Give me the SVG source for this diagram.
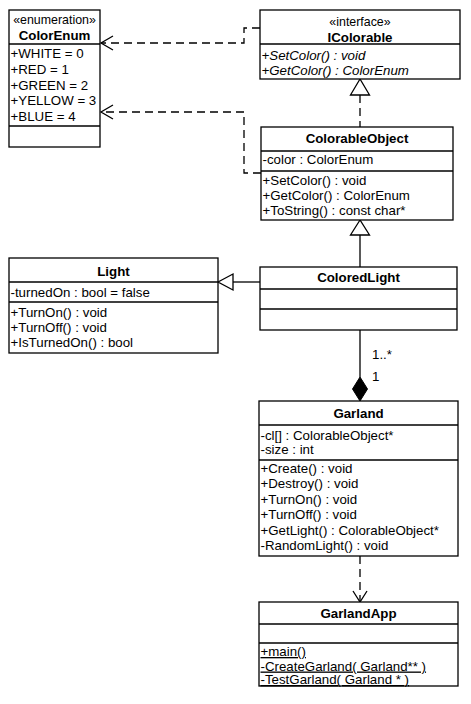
<svg xmlns="http://www.w3.org/2000/svg" width="471" height="704" viewBox="0 0 471 704">
<style>
.box{fill:#fff;stroke:#000;stroke-width:1.3}
.sep{stroke:#000;stroke-width:1.3}
text{font-family:"Liberation Sans",Arial,sans-serif;font-size:13.3px;fill:#000}
.t{font-weight:bold;text-anchor:middle}
.st{text-anchor:middle;font-size:12.4px}
.it{font-style:italic}
.u{text-decoration:underline}
.ln{fill:none;stroke:#000;stroke-width:1.3}
.dash{fill:none;stroke:#000;stroke-width:1.3;stroke-dasharray:8,5}
.open{fill:none;stroke:#000;stroke-width:1.3}
.tri{fill:#fff;stroke:#000;stroke-width:1.3}
</style>
<g id="connectors">
  <path class="dash" d="M360,95 L360,127"/>
  <polygon class="tri" points="360,79 350.5,95 369.5,95"/>
  <path class="dash" d="M260,28 L244,28 L244,43 L101,43"/>
  <path class="open" d="M113,36 L101,43 L113,50"/>
  <path class="dash" d="M261,173 L244,173 L244,112 L101,112"/>
  <path class="open" d="M113,105 L101,112 L113,119"/>
  <path class="ln" d="M360,235 L360,267"/>
  <polygon class="tri" points="360,220 350.5,235 369.5,235"/>
  <path class="ln" d="M233,282 L260,282"/>
  <polygon class="tri" points="218,282 233,274 233,290"/>
  <path class="ln" d="M360,330 L360,377"/>
  <polygon points="360,377 367.5,389 360,401 352.5,389" fill="#000" stroke="#000" stroke-width="1"/>
  <text x="372" y="359">1..*</text>
  <text x="372" y="381">1</text>
  <path class="dash" d="M360,556 L360,601"/>
  <path class="open" d="M353,591 L360,602 L367,591"/>
</g>
<g id="ColorEnum">
  <rect class="box" x="9" y="10" width="91" height="137"/>
  <line class="sep" x1="9" y1="44" x2="100" y2="44"/>
  <line class="sep" x1="9" y1="126" x2="100" y2="126"/>
  <text class="st" x="54.5" y="24">«enumeration»</text>
  <text class="t" x="54.5" y="39.5">ColorEnum</text>
  <text x="10.5" y="58">+WHITE = 0</text>
  <text x="10.5" y="74">+RED = 1</text>
  <text x="10.5" y="89.5">+GREEN = 2</text>
  <text x="10.5" y="105">+YELLOW = 3</text>
  <text x="10.5" y="121">+BLUE = 4</text>
</g>
<g id="IColorable">
  <rect class="box" x="260" y="10" width="200" height="69"/>
  <line class="sep" x1="260" y1="44" x2="460" y2="44"/>
  <text class="st" x="360" y="26">«interface»</text>
  <text class="t" x="360" y="41.5">IColorable</text>
  <text class="it" x="261.5" y="59.5">+SetColor() : void</text>
  <text class="it" x="261.5" y="74.5">+GetColor() : ColorEnum</text>
</g>
<g id="ColorableObject">
  <rect class="box" x="261" y="127" width="192" height="93"/>
  <line class="sep" x1="261" y1="151" x2="453" y2="151"/>
  <line class="sep" x1="261" y1="171" x2="453" y2="171"/>
  <text class="t" x="357" y="142.5">ColorableObject</text>
  <text x="262.5" y="164">-color : ColorEnum</text>
  <text x="262.5" y="184.5">+SetColor() : void</text>
  <text x="262.5" y="199.5">+GetColor() : ColorEnum</text>
  <text x="262.5" y="214.5">+ToString() : const char*</text>
</g>
<g id="Light">
  <rect class="box" x="9" y="258" width="209" height="95"/>
  <line class="sep" x1="9" y1="282" x2="218" y2="282"/>
  <line class="sep" x1="9" y1="302" x2="218" y2="302"/>
  <text class="t" x="113.5" y="275.5">Light</text>
  <text x="10.5" y="296.5">-turnedOn : bool = false</text>
  <text x="10.5" y="316.5">+TurnOn() : void</text>
  <text x="10.5" y="331.5">+TurnOff() : void</text>
  <text x="10.5" y="346.5">+IsTurnedOn() : bool</text>
</g>
<g id="ColoredLight">
  <rect class="box" x="260" y="267" width="197" height="63"/>
  <line class="sep" x1="260" y1="289" x2="457" y2="289"/>
  <line class="sep" x1="260" y1="309" x2="457" y2="309"/>
  <text class="t" x="358.5" y="281.5">ColoredLight</text>
</g>
<g id="Garland">
  <rect class="box" x="259" y="401" width="199" height="155"/>
  <line class="sep" x1="259" y1="425" x2="458" y2="425"/>
  <line class="sep" x1="259" y1="460" x2="458" y2="460"/>
  <text class="t" x="358.5" y="417.5">Garland</text>
  <text x="260.5" y="439.5">-cl[] : ColorableObject*</text>
  <text x="260.5" y="454">-size : int</text>
  <text x="260.5" y="472.5">+Create() : void</text>
  <text x="260.5" y="488">+Destroy() : void</text>
  <text x="260.5" y="503.5">+TurnOn() : void</text>
  <text x="260.5" y="519">+TurnOff() : void</text>
  <text x="260.5" y="534.5">+GetLight() : ColorableObject*</text>
  <text x="260.5" y="550">-RandomLight() : void</text>
</g>
<g id="GarlandApp">
  <rect class="box" x="259" y="602" width="199" height="84"/>
  <line class="sep" x1="259" y1="624" x2="458" y2="624"/>
  <line class="sep" x1="259" y1="643" x2="458" y2="643"/>
  <text class="t" x="358.5" y="617.5">GarlandApp</text>
  <text class="u" x="260.5" y="656">+main()</text>
  <text class="u" x="260.5" y="670.5">-CreateGarland( Garland** )</text>
  <text class="u" x="260.5" y="684">-TestGarland( Garland * )</text>
</g>
</svg>
